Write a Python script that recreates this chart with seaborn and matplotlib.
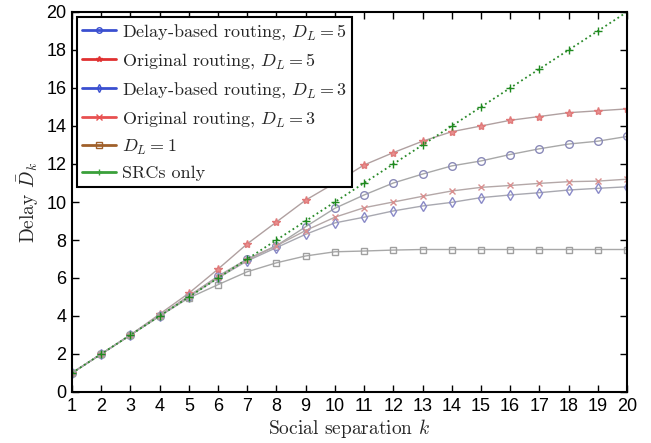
import matplotlib
matplotlib.use("Agg")
import matplotlib.pyplot as plt
from matplotlib.lines import Line2D
import seaborn as sns
import pandas as pd

# ---- data ----
k = [1, 2, 3, 4, 5, 6, 7, 8, 9, 10, 11, 12, 13, 14, 15, 16, 17, 18, 19, 20]
delay_dl5 = [1, 2, 3, 4, 5.05, 6.1, 7.0, 7.7, 8.7, 9.67, 10.37, 11.0, 11.47, 11.9, 12.16, 12.5, 12.8, 13.05, 13.2, 13.45]
orig_dl5 = [1, 2, 3, 4.1, 5.2, 6.47, 7.8, 8.95, 10.1, 11.0, 11.95, 12.6, 13.2, 13.7, 14.0, 14.3, 14.5, 14.7, 14.8, 14.9]
delay_dl3 = [1, 2, 3, 4, 5.0, 6.0, 6.9, 7.6, 8.3, 8.9, 9.2, 9.53, 9.79, 9.98, 10.23, 10.37, 10.49, 10.63, 10.72, 10.8]
orig_dl3 = [1, 2, 3, 4, 5.05, 6.05, 6.95, 7.7, 8.5, 9.2, 9.7, 10.0, 10.3, 10.58, 10.77, 10.87, 10.98, 11.07, 11.1, 11.2]
dl1 = [1, 2, 3, 4, 4.95, 5.65, 6.33, 6.8, 7.16, 7.38, 7.42, 7.47, 7.5, 7.5, 7.5, 7.5, 7.5, 7.5, 7.5, 7.5]
src_only = [1, 2, 3, 4, 5, 6, 7, 8, 9, 10, 11, 12, 13, 14, 15, 16, 17, 18, 19, 20]

labels = [
    r"Delay-based routing, $D_L = 5$",
    r"Original routing, $D_L = 5$",
    r"Delay-based routing, $D_L = 3$",
    r"Original routing, $D_L = 3$",
    r"$D_L = 1$",
    r"SRCs only",
]
xticks = k
yticks = [0, 2, 4, 6, 8, 10, 12, 14, 16, 18, 20]

sns.set_style("white")
plt.rcParams["mathtext.fontset"] = "cm"
plt.rcParams["axes.unicode_minus"] = False

fig = plt.figure(figsize=(6.51, 4.43), dpi=100)
ax = fig.add_axes([72 / 651, 1 - 392 / 443, (627 - 72) / 651, (392 - 12) / 443])

series = [delay_dl5, orig_dl5, delay_dl3, orig_dl3, dl1, src_only]
markers = ["o", "*", "d", "x", "s", "+"]
mcolors = ["#8a8ab8", "#e07a7a", "#8a8ac8", "#d89090", "#a0a0a0", "#1f8a1f"]
mfaces = ["none", "#e89090", "none", "none", "none", "none"]
msizes = [5.5, 6, 5.5, 5, 5, 6]
lcolors = ["#a8a8a8", "#b0a0a0", "#a8a8b0", "#b4a8a8", "#a8a8a8", "#2a8a2a"]
lstyles = ["-", "-", "-", "-", "-", ":"]
legend_colors = ["#3a4fd0", "#e03030", "#3a4fd0", "#e85050", "#a0602a", "#3aa03a"]

for vals, m, mc, mf, ms, lc, ls in zip(series, markers, mcolors, mfaces, msizes, lcolors, lstyles):
    df = pd.DataFrame({"k": k, "v": vals})
    sns.lineplot(data=df, x="k", y="v", ax=ax, color=lc, linestyle=ls,
                 linewidth=1.0 if ls == "-" else 1.3,
                 marker=m, markersize=ms,
                 markerfacecolor=mf, markeredgecolor=mc,
                 markeredgewidth=1.0)

ax.set_xlim(1, 20)
ax.set_ylim(0, 20)
ax.set_xticks(xticks)
ax.set_yticks(yticks)
ax.set_xticklabels([str(t) for t in xticks], fontfamily="Liberation Sans", fontsize=13)
ax.set_yticklabels([str(t) for t in yticks], fontfamily="Liberation Sans", fontsize=13)
ax.tick_params(direction="in", length=5, width=1, top=True, right=True,
               bottom=True, left=True, colors="black", pad=4)
for s in ax.spines.values():
    s.set_color("black")
    s.set_linewidth(1.5)

ax.set_xlabel(r"Social separation $k$", fontfamily="cmr10", fontsize=14, labelpad=2)
ax.set_ylabel(r"Delay $\bar{D}_k$", fontfamily="cmr10", fontsize=14, labelpad=4)

handles = [Line2D([0], [0], color=c, linewidth=2, marker=m, markersize=4,
                  markerfacecolor="none", markeredgecolor=c)
           for c, m in zip(legend_colors, markers)]
leg = ax.legend(handles, labels, loc="upper left", frameon=True, fancybox=False,
                edgecolor="black", framealpha=1, handlelength=1.9, handletextpad=0.3,
                borderaxespad=0.25, borderpad=0.3, labelspacing=0.5,
                prop={"family": "cmr10", "size": 13})
leg.get_frame().set_linewidth(1.5)

fig.savefig("out.png", dpi=100)
